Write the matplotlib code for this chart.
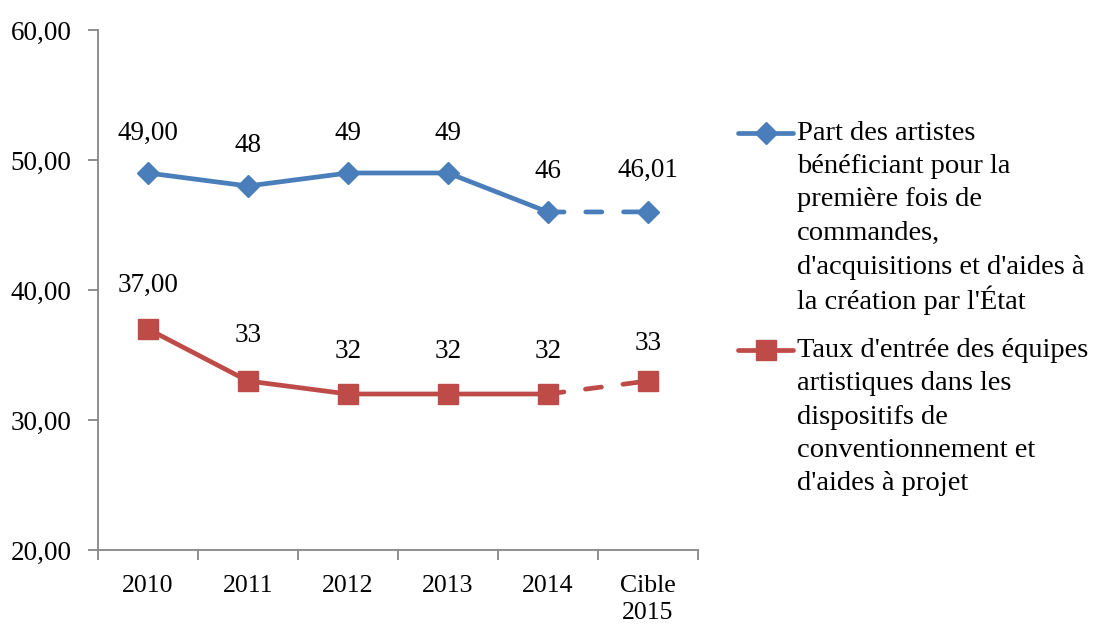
import matplotlib
matplotlib.use('Agg')
from matplotlib import pyplot as plt
from matplotlib.lines import Line2D

categories = ['2010', '2011', '2012', '2013', '2014', 'Cible\n2015']
part_artistes = [49.00, 48, 49, 49, 46, 46.01]
part_labels = ['49,00', '48', '49', '49', '46', '46,01']
taux_entree = [37.00, 33, 32, 32, 32, 33]
taux_labels = ['37,00', '33', '32', '32', '32', '33']
y_ticks = [20, 30, 40, 50, 60]

legend_part = ["Part des artistes", "bénéficiant pour la", "première fois de",
               "commandes,", "d'acquisitions et d'aides à", "la création par l'État"]
legend_taux = ["Taux d'entrée des équipes", "artistiques dans les", "dispositifs de",
               "conventionnement et", "d'aides à projet"]

blue = '#4A7EBB'
red = '#BE4B48'
grey = '#868686'

plt.rcParams['font.family'] = ['Liberation Serif', 'DejaVu Serif']

W, H = 1106, 626
fig = plt.figure(figsize=(W / 100, H / 100), dpi=100)
ax = fig.add_axes([98 / W, 1 - 550 / H, 600 / W, 520 / H])

x = list(range(len(categories)))
LW = 3.4

series = [
    (part_artistes, part_labels, blue, 'D', 11, [40, 40, 40, 40, 41, 41]),
    (taux_entree, taux_labels, red, 's', 14, [44, 45, 42, 42, 42, 38]),
]
for values, labels, color, marker, msize, offsets in series:
    # actual years solid, target year dashed
    ax.plot(x[:5], values[:5], color=color, lw=LW, solid_capstyle='round', zorder=2)
    ax.plot(x[4:], values[4:], color=color, lw=LW, ls=(0, (3.4, 4.6)),
            dash_capstyle='round', zorder=2)
    ax.plot(x, values, ls='none', marker=marker, ms=msize, color=color, zorder=3)
    for xi, v, lab, off in zip(x, values, labels, offsets):
        ax.annotate(lab, (xi, v), xytext=(0, off), textcoords='offset pixels',
                    ha='center', va='center', fontsize=19.5)

ax.set_xlim(-0.5, len(categories) - 0.5)
ax.set_ylim(20, 60)
ax.set_yticks(y_ticks)
ax.set_yticklabels([f'{t},00' for t in y_ticks], fontsize=19.5)
ax.set_xticks([i + 0.5 for i in range(-1, len(categories))])
ax.set_xticklabels([])
ax.set_xticks(x, minor=True)
ax.set_xticklabels(categories, minor=True, fontsize=18.5, linespacing=1.3)
ax.tick_params(axis='x', which='minor', length=0, pad=18)
ax.tick_params(axis='x', which='major', length=7, direction='out', color=grey, width=1.3)
ax.tick_params(axis='y', length=7, direction='out', color=grey, width=1.3, pad=12)

for side in ['top', 'right']:
    ax.spines[side].set_visible(False)
for side in ['left', 'bottom']:
    ax.spines[side].set_color(grey)
    ax.spines[side].set_linewidth(1.3)

# legend drawn by hand: handle sample plus wrapped lines of text
legend_items = [
    (legend_part, blue, 'D', 11, 133),
    (legend_taux, red, 's', 14, 350),
]
for lines, color, marker, msize, y0 in legend_items:
    yf = 1 - y0 / H
    fig.add_artist(Line2D([738 / W, 793 / W], [yf, yf], color=color, lw=LW,
                          solid_capstyle='round', transform=fig.transFigure))
    fig.add_artist(Line2D([765.5 / W], [yf], ls='none', marker=marker, ms=msize,
                          color=color, transform=fig.transFigure))
    for i, line in enumerate(lines):
        fig.text(797 / W, 1 - (y0 + i * 33.5) / H, line, fontsize=20.5,
                 ha='left', va='center')

fig.savefig('out.png', dpi=100)
